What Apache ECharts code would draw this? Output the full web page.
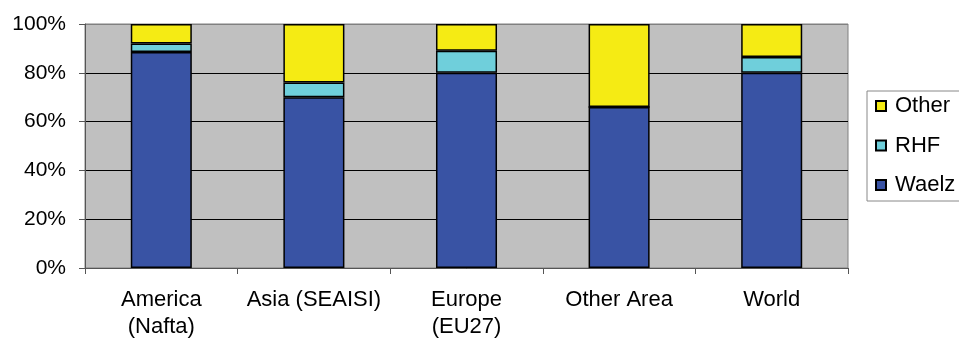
<!DOCTYPE html>
<html>
<head>
<meta charset="utf-8">
<script src="https://cdn.jsdelivr.net/npm/echarts@6/dist/echarts.min.js"></script>
<style>
  html, body { margin: 0; padding: 0; background: #fff; }
  #chart { width: 959px; height: 343px; }
</style>
</head>
<body>
<div id="chart"></div>
<script>
// Share of each process by region (percent)
const regions = ['America\n(Nafta)', 'Asia (SEAISI)', 'Europe\n(EU27)', 'Other Area', 'World'];
const waelz = [88.5, 70, 80, 66, 80];
const rhf = [3.5, 6, 9, 0, 6.5];
const other = [8, 24, 11, 34, 13.5];
const yTicks = [0, 20, 40, 60, 80, 100];

const FONT = 'Liberation Sans, Arial, sans-serif';
const barBorder = { borderColor: '#000', borderWidth: 1.5 };

function stackSeries(name, values, color) {
  return {
    name: name,
    type: 'bar',
    stack: 'total',
    barWidth: '40%',
    data: values,
    itemStyle: Object.assign({ color: color }, barBorder)
  };
}

const chart = echarts.init(document.getElementById('chart'), null, { renderer: 'canvas' });
chart.setOption({
  animation: false,
  textStyle: { fontFamily: FONT },
  grid: {
    left: 85, right: 111, top: 24, bottom: 75,
    show: true, backgroundColor: '#c0c0c0', borderColor: '#808080', borderWidth: 1
  },
  legend: {
    orient: 'vertical',
    left: 867, top: 91,
    data: ['Other', 'RHF', 'Waelz'],
    icon: 'rect',
    itemWidth: 10, itemHeight: 10,
    itemGap: 17.5,
    padding: [4, 40, 5, 8],
    borderColor: '#888', borderWidth: 1,
    textStyle: { fontFamily: FONT, fontSize: 22, color: '#000', lineHeight: 22, padding: [0, 0, 0, 4] }
  },
  xAxis: {
    type: 'category',
    data: regions,
    axisLine: { lineStyle: { color: '#555', width: 1 } },
    axisTick: { show: true, length: 6, lineStyle: { color: '#555' } },
    axisLabel: { interval: 0, fontFamily: FONT, fontSize: 22, color: '#000', lineHeight: 27, margin: 18 }
  },
  yAxis: {
    type: 'value',
    min: yTicks[0], max: yTicks[yTicks.length - 1], interval: 20,
    axisLine: { show: true, lineStyle: { color: '#555', width: 1 } },
    axisTick: { show: true, length: 6, lineStyle: { color: '#555' } },
    axisLabel: { formatter: '{value}%', fontFamily: FONT, fontSize: 21, color: '#000', margin: 19 },
    splitLine: { show: true, lineStyle: { color: ['#000', '#000', '#000', '#000', '#000', '#808080'], width: 1 } }
  },
  series: [
    stackSeries('Waelz', waelz, '#3953a4'),
    stackSeries('RHF', rhf, '#6fcfdb'),
    stackSeries('Other', other, '#f5eb14')
  ]
});
</script>
</body>
</html>
